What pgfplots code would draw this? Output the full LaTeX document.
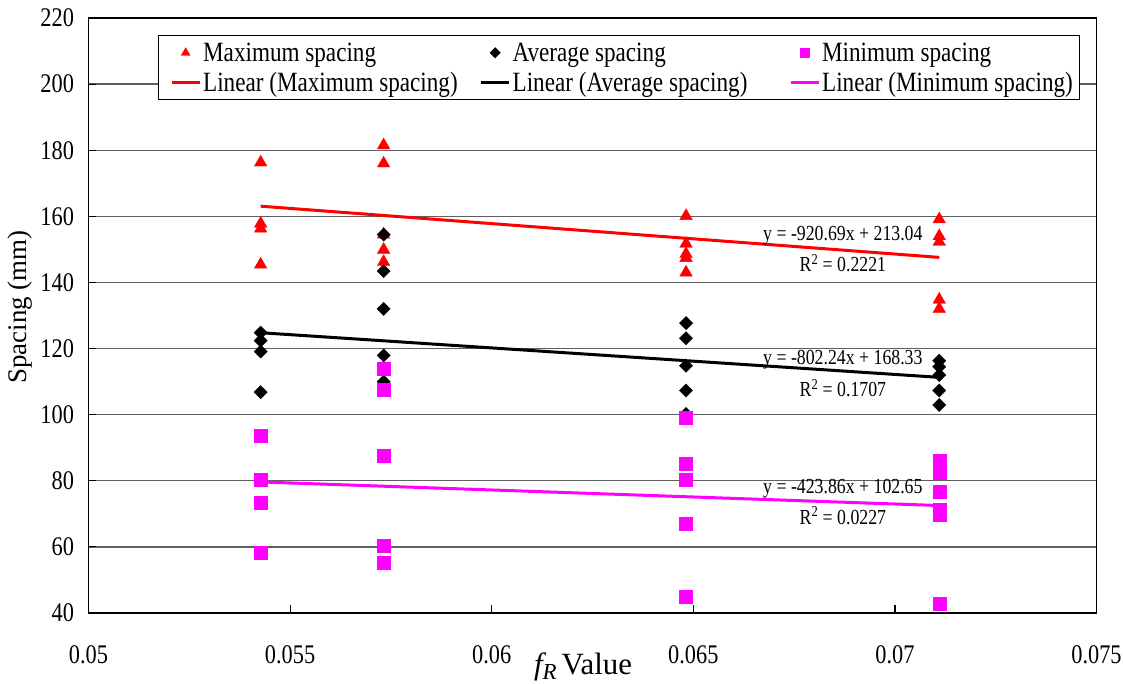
\documentclass[border=0pt]{standalone}
\usepackage{fontspec}
\setmainfont{Liberation Serif}[FakeStretch=0.83]
\newfontfamily\plainserif{Liberation Serif}
\usepackage{pgfplots}
\pgfplotsset{compat=1.18}

\definecolor{maxred}{RGB}{255,0,0}
\definecolor{minmag}{RGB}{255,0,255}
\definecolor{gridgray}{RGB}{95,95,95}

\pgfplotsset{
  mklegend/.style={legend image code/.code={\path[draw=none,fill=none] (0bp,0bp) -- (36bp,0bp);\draw[##1] plot coordinates {(22bp,0bp)};}},
  lnlegend/.style={legend image code/.code={\path[draw=none,fill=none] (0bp,0bp) -- (36bp,0bp);\draw[##1] (8bp,0bp) -- (36bp,0bp);}},
  maxmk/.style={only marks, mark=triangle*, color=maxred, mark size=7.3bp,
    mark options={fill=maxred, draw=maxred, line width=0.3bp}},
  avgmk/.style={only marks, mark=square*, color=black, mark size=4.7bp,
    mark options={rotate=45, fill=black, draw=black, line width=0.3bp}},
  minmk/.style={only marks, mark=square*, color=minmag, mark size=6.5bp,
    mark options={fill=minmag, draw=minmag, line width=0.3bp}},
}

\newcommand{\ticksize}{\fontsize{27}{30}\selectfont}
\newcommand{\legsize}{\fontsize{28}{31}\selectfont}
\newcommand{\eqsize}{\fontsize{21.5}{24}\selectfont}

\begin{document}
\begin{tikzpicture}
\path[use as bounding box] (-88.5bp,-71bp) rectangle (1034.5bp,613bp);
\begin{axis}[
  scale only axis, width=1008bp, height=595bp,
  xmin=0.05, xmax=0.075, ymin=40, ymax=220,
  xtick={0.05,0.055,0.06,0.065,0.07,0.075},
  xticklabels={0.05,0.055,0.06,0.065,0.07,0.075},
  scaled x ticks=false, scaled y ticks=false,
  ytick={40,60,...,220},
  /pgf/number format/assume math mode=true,
  tick align=inside, xtick pos=left, ytick pos=left,
  major tick length=8bp,
  ymajorgrids, major grid style={gridgray, line width=1.3bp},
  axis line style={black, line width=1.3bp},
  tick style={black, line width=1.2bp},
  xticklabel style={font=\ticksize, yshift=-29bp},
  yticklabel style={font=\ticksize, xshift=-11bp},
  ylabel={\plainserif\fontsize{27}{30}\selectfont Spacing (mm)},
  ylabel style={at={(axis description cs:-0.068,0.514)}, anchor=center},
  xlabel={\plainserif\fontsize{31}{33}\selectfont{\itshape f\raisebox{-0.35ex}{\fontsize{23}{23}\selectfont R}}\,Value},
  xlabel style={at={(axis description cs:0.4906,-0.104)}, anchor=base},
  legend columns=3,
  legend style={at={(axis description cs:0.069,0.971)}, anchor=north west,
    draw=black, line width=1.2bp, fill=white, font=\legsize,
    cells={anchor=west}, row sep=5bp, inner sep=5bp},
]

% legend entries (markers on the first row, fitted lines on the second)
\addlegendimage{maxmk, mklegend, mark size=5.2bp}
\addlegendentry{\makebox[268bp][l]{Maximum spacing}}
\addlegendimage{avgmk, mklegend, mark size=3.7bp}
\addlegendentry{\makebox[268bp][l]{Average spacing}}
\addlegendimage{minmk, mklegend, mark size=4.6bp}
\addlegendentry{Minimum spacing}
\addlegendimage{lnlegend, maxred, line width=3bp}
\addlegendentry{\makebox[268bp][l]{Linear (Maximum spacing)}}
\addlegendimage{lnlegend, black, line width=3bp}
\addlegendentry{\makebox[268bp][l]{Linear (Average spacing)}}
\addlegendimage{lnlegend, minmag, line width=3bp}
\addlegendentry{Linear (Minimum spacing)}

% linear fits, from the fitted equations
\addplot[forget plot, maxred, line width=3bp] coordinates {(0.05427,163.07) (0.0711,147.58)};
\addplot[forget plot, black, line width=3bp] coordinates {(0.05427,124.79) (0.0711,111.29)};
\addplot[forget plot, minmag, line width=3bp] coordinates {(0.05427,79.65) (0.0711,72.51)};

% maximum spacing
\addplot[forget plot, maxmk] coordinates {
  (0.05427,176.3) (0.05427,157.8) (0.05427,156.3) (0.05427,145.4)
  (0.05732,181.5) (0.05732,176.0) (0.05732,154.5) (0.05732,149.9) (0.05732,146.2)
  (0.06482,160.1) (0.06482,151.7) (0.06482,148.6) (0.06482,147.4) (0.06482,143.0)
  (0.0711,159.1) (0.0711,154.0) (0.0711,152.3) (0.0711,134.8) (0.0711,132.0)
};
% average spacing
\addplot[forget plot, avgmk] coordinates {
  (0.05427,124.8) (0.05427,122.4) (0.05427,119.1) (0.05427,106.8)
  (0.05732,154.5) (0.05732,143.4) (0.05732,132.0) (0.05732,117.9) (0.05732,110.0)
  (0.06482,127.7) (0.06482,123.1) (0.06482,114.8) (0.06482,107.3) (0.06482,100.2)
  (0.0711,116.3) (0.0711,114.5) (0.0711,112.0) (0.0711,107.3) (0.0711,102.9)
};
% minimum spacing
\addplot[forget plot, minmk] coordinates {
  (0.05427,93.8) (0.05427,80.3) (0.05427,73.4) (0.05427,58.3)
  (0.05732,114.0) (0.05732,107.5) (0.05732,87.5) (0.05732,60.3) (0.05732,55.2)
  (0.06482,99.0) (0.06482,85.2) (0.06482,80.2) (0.06482,66.9) (0.06482,44.9)
  (0.0711,86.2) (0.0711,82.4) (0.0711,76.8) (0.0711,71.3) (0.0711,69.9) (0.0711,42.8)
};

% fitted equations
\node[font=\eqsize] at (axis cs:0.06871,154.2) {y = -920.69x + 213.04};
\node[font=\eqsize] at (axis cs:0.06871,145.8) {R\textsuperscript{2} = 0.2221};
\node[font=\eqsize] at (axis cs:0.06871,116.6) {y = -802.24x + 168.33};
\node[font=\eqsize] at (axis cs:0.06871,108.0) {R\textsuperscript{2} = 0.1707};
\node[font=\eqsize] at (axis cs:0.06871,77.7) {y = -423.86x + 102.65};
\node[font=\eqsize] at (axis cs:0.06871,69.4) {R\textsuperscript{2} = 0.0227};
\end{axis}
\end{tikzpicture}
\end{document}
